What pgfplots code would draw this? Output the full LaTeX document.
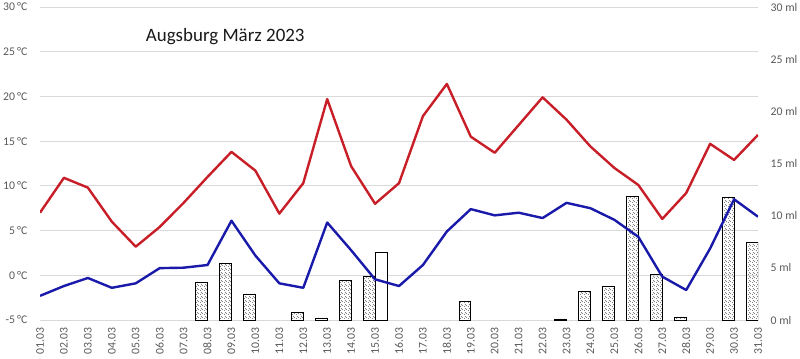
\documentclass[border=0pt]{standalone}
\usepackage{pgfplots}
\pgfplotsset{compat=1.18}
\usepackage{fontspec}
\setmainfont{Carlito}
\usetikzlibrary{patterns}
\pgfdeclarepatternformonly{stipple}{\pgfqpoint{0pt}{0pt}}{\pgfqpoint{3pt}{3pt}}{\pgfqpoint{3pt}{3pt}}{
  \pgfpathcircle{\pgfqpoint{0.6pt}{0.6pt}}{0.42pt}
  \pgfpathcircle{\pgfqpoint{2.1pt}{1.3pt}}{0.42pt}
  \pgfpathcircle{\pgfqpoint{1.2pt}{2.4pt}}{0.38pt}
  \pgfusepath{fill}}
\definecolor{tmaxc}{RGB}{200,30,40}
\definecolor{tminc}{RGB}{25,25,170}
\definecolor{gridc}{RGB}{217,217,217}
\definecolor{labc}{RGB}{89,89,89}
\pgfplotsset{base/.style={
  scale only axis, width=538.5pt, height=234.75pt,
  xmin=1, xmax=31,
  axis line style={draw=none}, major tick length=0pt,
  tick label style={font=\fontsize{8.8}{10}\selectfont, text=labc},
}}
\begin{document}
\begin{tikzpicture}
\begin{axis}[base, name=ax, ymin=-5, ymax=30, ytick={-5,0,5,10,15,20,25,30},
  yticklabels={-5\,°C,0\,°C,5\,°C,10\,°C,15\,°C,20\,°C,25\,°C,30\,°C},
  ymajorgrids, grid style={gridc, line width=0.7pt},
  xtick={1,...,31},
  xticklabels={01.03,02.03,03.03,04.03,05.03,06.03,07.03,08.03,09.03,10.03,11.03,12.03,13.03,14.03,15.03,16.03,17.03,18.03,19.03,20.03,21.03,22.03,23.03,24.03,25.03,26.03,27.03,28.03,29.03,30.03,31.03},
  xticklabel style={rotate=90, anchor=east, xshift=-2.5pt},
  yticklabel style={xshift=-6pt}]
\addplot[draw=none] coordinates {(1,0)};
\end{axis}
\begin{axis}[base, ymin=0, ymax=30, ytick={0,5,10,15,20,25,30},
  yticklabels={0 ml,5 ml,10 ml,15 ml,20 ml,25 ml,30 ml},
  yticklabel pos=right, yticklabel style={anchor=west, xshift=6pt}, xtick=\empty]
\addplot[ybar, bar width=0.5, bar shift=-0.25, draw=black, line width=0.5pt, pattern=stipple, pattern color=black!85] coordinates {
(8,3.6) (9,5.4) (10,2.5) (12,0.75) (13,0.2) (14,3.8) (15,4.2) (19,1.8) (23,0.1) (24,2.7) (25,3.2) (26,11.9) (27,4.4) (28,0.3) (30,11.8) (31,7.4)};
\addplot[ybar, bar width=0.5, bar shift=0.25, draw=black, line width=0.5pt, fill=white] coordinates {(15,6.5)};
\end{axis}
\begin{axis}[base, ymin=-5, ymax=30, hide axis]
\addplot[tmaxc, line width=1.8pt, line join=round] coordinates {
(1,7.0) (2,10.9) (3,9.8) (4,6.0) (5,3.2) (6,5.4) (7,8.1) (8,11.0) (9,13.8) (10,11.7) (11,6.9) (12,10.3) (13,19.7) (14,12.2) (15,8.0) (16,10.3) (17,17.8) (18,21.4) (19,15.5) (20,13.7) (21,16.8) (22,19.9) (23,17.4) (24,14.4) (25,12.0) (26,10.1) (27,6.3) (28,9.2) (29,14.7) (30,12.9) (31,15.7)};
\addplot[tminc, line width=1.8pt, line join=round] coordinates {
(1,-2.3) (2,-1.2) (3,-0.3) (4,-1.4) (5,-0.9) (6,0.8) (7,0.85) (8,1.15) (9,6.1) (10,2.2) (11,-0.9) (12,-1.4) (13,5.9) (14,2.8) (15,-0.45) (16,-1.2) (17,1.15) (18,4.9) (19,7.4) (20,6.7) (21,7.0) (22,6.4) (23,8.1) (24,7.5) (25,6.2) (26,4.3) (27,-0.15) (28,-1.65) (29,3.0) (30,8.5) (31,6.55)};
\node[font=\fontsize{14.2}{16}\selectfont, text=black!90] at (rel axis cs:0.258,0.907) {Augsburg März 2023};
\end{axis}
\pgfresetboundingbox
\path (ax.south west) ++(-30pt,-28.5pt) rectangle ++(600pt,268.5pt);
\end{tikzpicture}
\end{document}
